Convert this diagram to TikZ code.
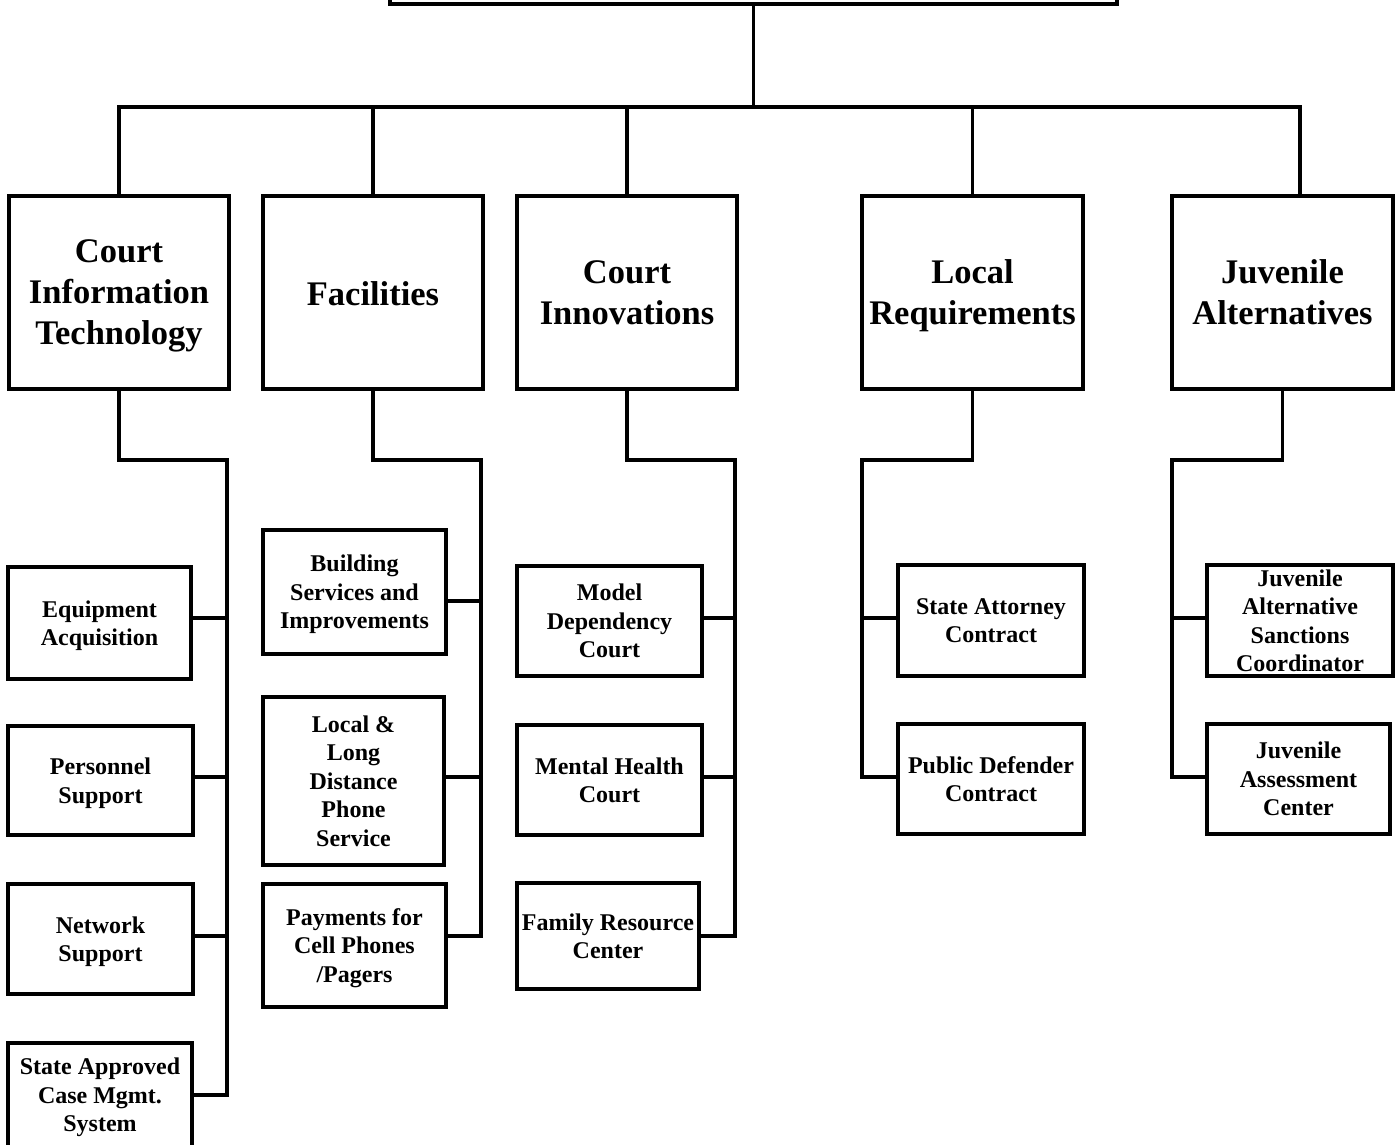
\documentclass[tikz,border=0pt]{standalone}
\usepackage{fontspec}
\setmainfont{Liberation Serif}
\begin{document}
\begin{tikzpicture}[x=1pt,y=-1pt,
  big/.style={draw, line width=3.2pt, minimum width=220pt, minimum height=193pt, inner sep=0pt, align=center, text depth=0pt, font=\fontsize{34.5}{41}\selectfont\bfseries},
  small/.style={draw, line width=3.6pt, inner sep=0pt, align=center, text depth=0pt, font=\fontsize{24}{28.5}\selectfont\bfseries},
  conn/.style={line width=3.2pt, line join=miter}]
\useasboundingbox (0,0) rectangle (1397,1145);
\clip (0,0) rectangle (1397,1145);
% top box (cut off)
\node[draw, line width=3.2pt, minimum width=727pt, minimum height=88pt, inner sep=0pt] (top) at (753.5,-40) {};
% level 1
\node[big] (cit) at (119,292.5) {Court\\Information\\Technology};
\node[big, text height=26pt] (fac) at (373,292.5) {Facilities};
\node[big] (cin) at (627,292.5) {Court\\Innovations};
\node[big, minimum width=221pt] (loc) at (972.5,292.5) {Local\\Requirements};
\node[big, minimum width=221pt] (jua) at (1282.5,292.5) {Juvenile\\Alternatives};
% bus
\coordinate (bus) at (753.5,107);
\draw[conn] (top.south) -- (bus);
\draw[conn] (cit.north) |- (bus);
\draw[conn] ([xshift=17.5pt]jua.north) |- (bus);
\draw[conn] (fac.north) -- (fac.north |- bus);
\draw[conn] (cin.north) -- (cin.north |- bus);
\draw[conn] (loc.north) -- (loc.north |- bus);
% CIT children
\node[small, minimum width=183pt, minimum height=112pt] (eq) at (99.5,623) {Equipment\\Acquisition};
\node[small, minimum width=185pt, minimum height=109pt] (per) at (100.5,780.5) {Personnel\\Support};
\node[small, minimum width=185pt, minimum height=110pt] (net) at (100.5,939) {Network\\Support};
\node[small, minimum width=184pt, minimum height=104pt] (sac) at (100,1095) {State Approved\\Case Mgmt.\\System};
\coordinate (citT) at (227,460);
\draw[conn] (cit.south) |- (citT) |- (sac.east);
\draw[conn] ([yshift=5pt]eq.east) -- ([yshift=5pt]eq.east -| citT);
\draw[conn] ([yshift=3.5pt]per.east) -- ([yshift=3.5pt]per.east -| citT);
\draw[conn] ([yshift=3pt]net.east) -- ([yshift=3pt]net.east -| citT);
% Facilities children
\node[small, minimum width=183pt, minimum height=124pt] (bld) at (354.5,592) {Building\\Services and\\Improvements};
\node[small, minimum width=181pt, minimum height=168pt] (lld) at (353.5,781) {Local \&\\Long\\Distance\\Phone\\Service};
\node[small, minimum width=183pt, minimum height=123pt] (pay) at (354.5,945.5) {Payments for\\Cell Phones\\/Pagers};
\coordinate (facT) at (481,460);
\draw[conn] (fac.south) |- (facT) |- ([yshift=9.5pt]pay.east);
\draw[conn] ([yshift=-9pt]bld.east) -- ([yshift=-9pt]bld.east -| facT);
\draw[conn] ([yshift=4pt]lld.east) -- ([yshift=4pt]lld.east -| facT);
% Court Innovations children
\node[small, minimum width=185pt, minimum height=110pt] (mdc) at (609.5,621) {Model\\Dependency\\Court};
\node[small, minimum width=185pt, minimum height=110pt] (mhc) at (609.5,780) {Mental Health\\Court};
\node[small, minimum width=182pt, minimum height=106pt] (frc) at (608,936) {Family Resource\\Center};
\coordinate (cinT) at (735,460);
\draw[conn] (cin.south) |- (cinT) |- (frc.east);
\draw[conn] ([yshift=3pt]mdc.east) -- ([yshift=3pt]mdc.east -| cinT);
\draw[conn] ([yshift=3pt]mhc.east) -- ([yshift=3pt]mhc.east -| cinT);
% Local Requirements children
\node[small, minimum width=186pt, minimum height=111pt] (sat) at (991,620.5) {State Attorney\\Contract};
\node[small, minimum width=186pt, minimum height=110pt] (pdc) at (991,779) {Public Defender\\Contract};
\coordinate (locT) at (862,460);
\draw[conn] (loc.south) |- (locT) |- ([yshift=2pt]pdc.west);
\draw[conn] ([yshift=2.5pt]sat.west) -- ([yshift=2.5pt]sat.west -| locT);
% Juvenile Alternatives children
\node[small, minimum width=186pt, minimum height=111pt] (jas) at (1300,620.5) {Juvenile\\Alternative\\Sanctions\\Coordinator};
\node[small, minimum width=183pt, minimum height=110pt] (jac) at (1298.5,779) {Juvenile\\Assessment\\Center};
\coordinate (juaT) at (1172,460);
\draw[conn] (jua.south) |- (juaT) |- ([yshift=2pt]jac.west);
\draw[conn] ([yshift=2.5pt]jas.west) -- ([yshift=2.5pt]jas.west -| juaT);
\end{tikzpicture}
\end{document}
